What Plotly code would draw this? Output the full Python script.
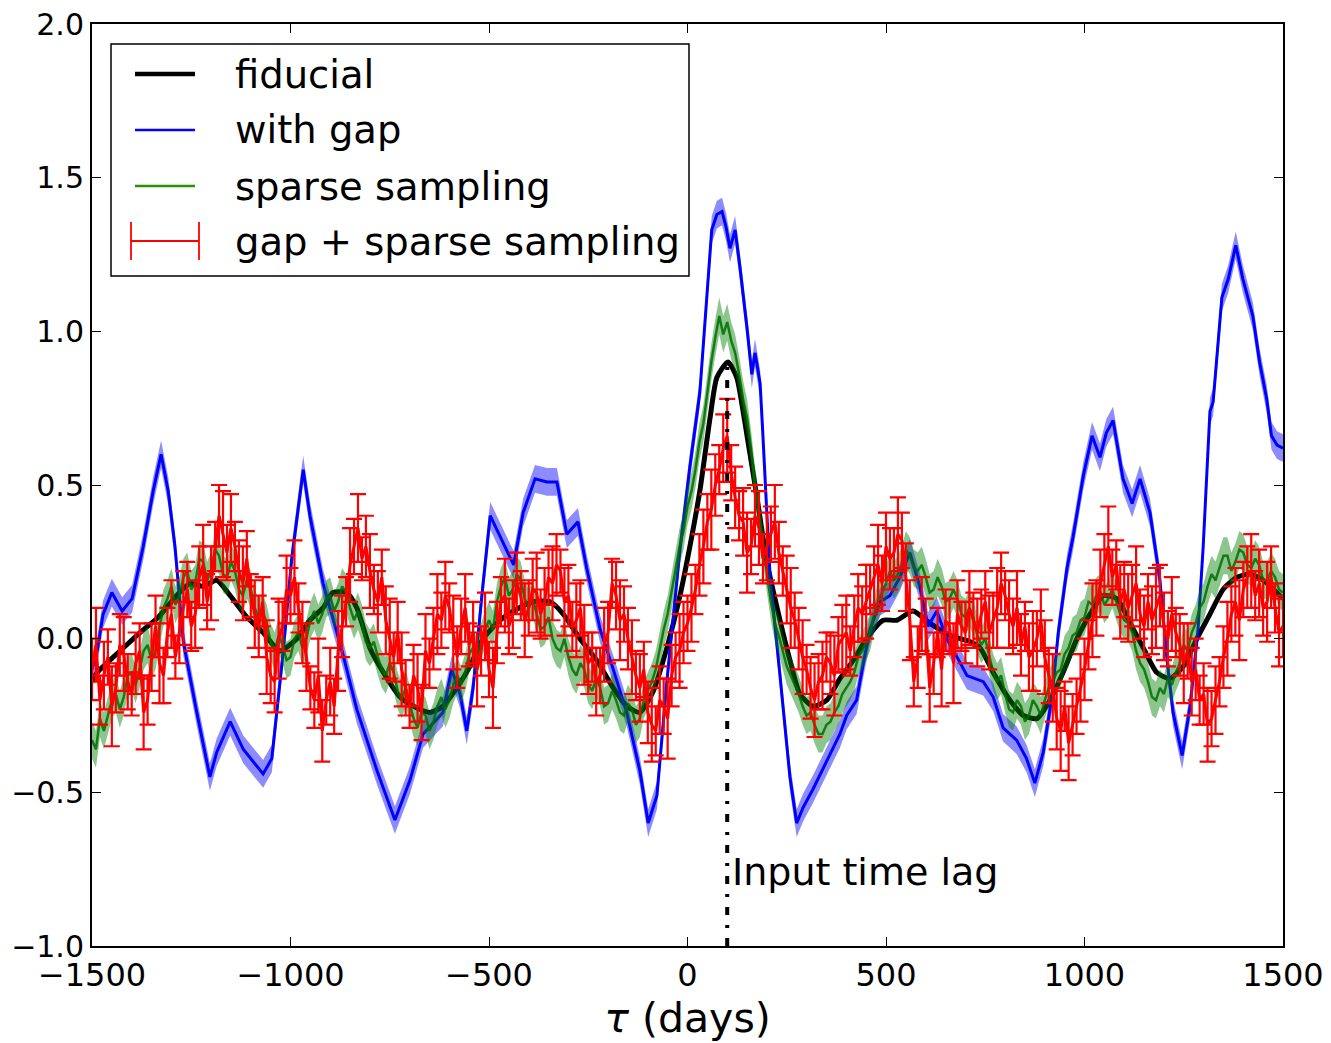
import plotly.graph_objects as go

# ---------------- data ----------------
fid_tau = [-1500, -1487, -1421, -1379, -1333, -1287, -1253, -1220, -1186, -1152, -1110, -1069, -1027, -984, -951,
           -918, -893, -858, -833, -800, -766, -724, -690, -649, -616, -581, -548, -515, -472, -438, -388, -346,
           -313, -271, -229, -187, -153, -120, -86, -52, -19, 6, 31, 57, 74, 102, 124, 140, 150, 175, 200, 233,
           258, 283, 316, 351, 384, 418, 451, 493, 527, 568, 611, 661, 712, 737, 770, 812, 846, 880, 913, 946,
           981, 1014, 1047, 1082, 1115, 1148, 1182, 1215, 1249, 1283, 1316, 1349, 1384, 1417, 1450, 1500]
fid_val = [-0.14, -0.11, -0.03, 0.02, 0.07, 0.14, 0.18, 0.17, 0.19, 0.14, 0.07, 0.02, -0.04, 0.00, 0.06,
           0.10, 0.15, 0.15, 0.10, -0.03, -0.11, -0.19, -0.22, -0.24, -0.22, -0.16, -0.09, 0.00, 0.06, 0.09, 0.12, 0.12,
           0.08, 0.00, -0.07, -0.16, -0.22, -0.24, -0.17, -0.03, 0.14, 0.30, 0.48, 0.72, 0.85, 0.90, 0.85, 0.74, 0.66, 0.46, 0.25, 0.06,
           -0.07, -0.18, -0.22, -0.20, -0.13, -0.07, 0.00, 0.06, 0.06, 0.09, 0.05, 0.01, -0.01, -0.03, -0.11, -0.20, -0.25, -0.26, -0.20, -0.11,
           0.00, 0.08, 0.14, 0.13, 0.05, -0.03, -0.11, -0.13, -0.09, 0.00, 0.08, 0.16, 0.20, 0.21, 0.19, 0.13]

gap_tau = [-1500, -1487, -1472, -1450, -1424, -1399, -1371, -1346, -1326, -1308, -1291, -1270, -1236, -1203, -1186,
           -1152, -1119, -1069, -1047, -1019, -997, -968, -951, -918, -868, -833, -782, -737, -699, -666, -616, -594,
           -573, -556, -540, -518, -497, -464, -438, -414, -384, -354, -329, -304, -276, -254, -220, -187, -153, -120,
           -99, -77, -52, -19, 6, 31, 49, 61, 74, 87, 97, 107, 120, 132, 150, 162, 170, 183, 190, 208, 233, 258, 275,
           291, 316, 351, 384, 401, 426, 443, 460, 485, 510, 535, 560, 585, 606, 628, 653, 679, 704, 745, 770, 795,
           829, 854, 875, 896, 918, 934, 956, 971, 997, 1019, 1039, 1055, 1072, 1097, 1120, 1140, 1165, 1190, 1208,
           1223, 1246, 1266, 1286, 1299, 1316, 1324, 1346, 1362, 1381, 1399, 1424, 1441, 1459, 1471, 1485, 1500]
gap_val = [-0.10, -0.04, 0.08, 0.15, 0.09, 0.13, 0.30, 0.48, 0.60, 0.48, 0.30, -0.01, -0.24, -0.45, -0.37,
           -0.27, -0.36, -0.44, -0.39, -0.05, 0.26, 0.55, 0.40, 0.18, -0.05, -0.23, -0.43, -0.59, -0.46, -0.31, -0.24, -0.10,
           -0.18, -0.30, -0.16, 0.14, 0.40, 0.31, 0.24, 0.41, 0.52, 0.51, 0.51, 0.34, 0.38, 0.23, 0.03, -0.10, -0.24, -0.43,
           -0.60, -0.51, -0.14, 0.29, 0.56, 0.80, 1.11, 1.33, 1.38, 1.39, 1.34, 1.27, 1.33, 1.21, 1.01, 0.86, 0.93, 0.83, 0.66, 0.20, -0.12, -0.45, -0.60,
           -0.55, -0.49, -0.40, -0.31, -0.25, -0.20, -0.08, 0.03, 0.12, 0.14, 0.20, 0.28, 0.17, 0.04, 0.09, 0.00, -0.06, -0.12, -0.14, -0.19, -0.29,
           -0.33, -0.39, -0.47, -0.37, -0.19, 0.02, 0.23, 0.33, 0.53, 0.66, 0.59, 0.67, 0.71, 0.52, 0.44, 0.52, 0.41, 0.19, -0.07,
           -0.24, -0.38, -0.22, 0.03, 0.30, 0.74, 0.77, 1.11, 1.17, 1.28, 1.17, 1.05, 0.90, 0.78, 0.66, 0.63, 0.62]
gap_err = 0.045

# lags of the sampled cross-correlations (10-day grid)
tau_grid = list(range(-1500, 1501, 10))

sparse_val = [
    -0.33, -0.36, -0.26, -0.30, -0.25, -0.20, -0.18, -0.23, -0.19, -0.12,
    -0.11, -0.15, -0.10, -0.04, -0.02, -0.07, -0.04, 0.04, 0.10, 0.13,
    0.17, 0.11, 0.14, 0.20, 0.22, 0.16, 0.18, 0.26, 0.25, 0.19,
    0.22, 0.29, 0.27, 0.21, 0.20, 0.25, 0.22, 0.16, 0.14, 0.19,
    0.16, 0.10, 0.07, 0.09, 0.05, -0.01, -0.04, 0.01, -0.02, -0.07,
    -0.06, 0.00, 0.02, -0.03, 0.00, 0.06, 0.09, 0.05, 0.08, 0.13,
    0.14, 0.09, 0.12, 0.17, 0.15, 0.10, 0.06, 0.09, 0.05, -0.01,
    -0.03, -0.01, -0.06, -0.10, -0.12, -0.08, -0.11, -0.17, -0.20, -0.16,
    -0.21, -0.26, -0.29, -0.24, -0.25, -0.30, -0.27, -0.22, -0.19, -0.23,
    -0.20, -0.15, -0.12, -0.15, -0.11, -0.05, -0.03, -0.06, -0.01, 0.03,
    0.06, 0.03, 0.12, 0.17, 0.20, 0.14, 0.16, 0.21, 0.19, 0.13,
    0.10, 0.13, 0.08, 0.03, 0.04, 0.07, 0.00, -0.03, -0.04, 0.00,
    -0.06, -0.10, -0.12, -0.08, -0.10, -0.15, -0.17, -0.13, -0.16, -0.22,
    -0.21, -0.17, -0.20, -0.24, -0.25, -0.21, -0.23, -0.28, -0.26, -0.20,
    -0.17, -0.14, -0.10, -0.03, 0.03, 0.08, 0.15, 0.22, 0.30, 0.35,
    0.43, 0.48, 0.55, 0.64, 0.70, 0.80, 0.90, 0.98, 1.05, 0.99,
    1.03, 0.97, 0.93, 0.86, 0.78, 0.72, 0.62, 0.50, 0.40, 0.30,
    0.21, 0.12, 0.05, 0.01, -0.04, -0.09, -0.12, -0.15, -0.18, -0.22,
    -0.25, -0.24, -0.28, -0.31, -0.31, -0.28, -0.27, -0.24, -0.22, -0.18,
    -0.16, -0.14, -0.11, -0.06, -0.04, -0.01, 0.02, 0.08, 0.12, 0.15,
    0.18, 0.22, 0.19, 0.21, 0.24, 0.29, 0.27, 0.23, 0.22, 0.24,
    0.20, 0.15, 0.16, 0.20, 0.17, 0.12, 0.13, 0.16, 0.13, 0.08,
    0.07, 0.10, 0.07, 0.01, -0.02, 0.00, -0.06, -0.11, -0.14, -0.12,
    -0.18, -0.23, -0.24, -0.20, -0.22, -0.27, -0.25, -0.20, -0.22, -0.25,
    -0.20, -0.16, -0.14, -0.11, -0.10, -0.05, -0.03, 0.01, 0.02, 0.06,
    0.07, 0.12, 0.11, 0.14, 0.15, 0.11, 0.13, 0.16, 0.12, 0.08,
    0.06, 0.05, 0.02, -0.04, -0.08, -0.10, -0.14, -0.19, -0.20, -0.16,
    -0.18, -0.13, -0.15, -0.11, -0.08, -0.02, -0.04, 0.02, 0.05, 0.10,
    0.12, 0.17, 0.21, 0.19, 0.23, 0.27, 0.27, 0.22, 0.25, 0.29,
    0.28, 0.24, 0.23, 0.26, 0.24, 0.19, 0.19, 0.22, 0.20, 0.16,
    0.15]
sparse_err = 0.06

both_val = [
    -0.10, -0.02, -0.20, -0.12, -0.06, -0.22, -0.16, -0.02, -0.05, -0.14,
    -0.18, -0.08, -0.04, -0.24, -0.20, -0.06, 0.04, -0.08, -0.12, 0.02,
    0.08, -0.06, 0.02, 0.10, 0.16, 0.04, 0.08, 0.20, 0.24, 0.12,
    0.18, 0.30, 0.40, 0.34, 0.28, 0.36, 0.30, 0.22, 0.18, 0.26,
    0.14, 0.08, 0.04, 0.12, -0.06, -0.12, -0.14, 0.00, 0.04, 0.16,
    0.14, 0.20, 0.10, 0.02, -0.06, -0.16, -0.20, -0.12, -0.30, -0.20,
    -0.14, -0.22, -0.04, 0.04, 0.12, 0.24, 0.30, 0.36, 0.26, 0.30,
    0.22, 0.16, 0.12, 0.20, 0.06, 0.00, -0.06, 0.02, -0.10, -0.16,
    -0.22, -0.12, -0.16, -0.24, -0.04, -0.08, 0.00, 0.08, 0.06, 0.14,
    0.10, 0.02, -0.06, 0.04, 0.10, -0.02, 0.02, -0.10, -0.04, 0.04,
    -0.10, -0.16, 0.02, 0.12, 0.14, 0.04, 0.08, 0.18, 0.14, 0.06,
    0.10, 0.16, 0.15, 0.08, 0.12, 0.20, 0.18, 0.24, 0.22, 0.12,
    0.14, 0.04, 0.06, 0.10, -0.02, -0.08, -0.06, -0.14, -0.12, -0.02,
    0.02, 0.18, 0.14, 0.06, 0.08, 0.00, -0.06, -0.12, -0.16, -0.10,
    -0.24, -0.28, -0.30, -0.20, -0.22, -0.26, -0.12, -0.06, -0.04, 0.02,
    0.05, 0.10, 0.16, 0.24, 0.30, 0.38, 0.42, 0.50, 0.55, 0.62,
    0.66, 0.54, 0.46, 0.40, 0.38, 0.28, 0.30, 0.40, 0.36, 0.26,
    0.30, 0.34, 0.38, 0.28, 0.22, 0.16, 0.10, 0.06, 0.00, -0.06,
    -0.10, -0.16, -0.20, -0.14, -0.12, -0.06, -0.08, -0.12, -0.02, 0.00,
    0.02, -0.04, 0.04, 0.10, 0.08, 0.12, 0.16, 0.20, 0.24, 0.18,
    0.30, 0.26, 0.28, 0.34, 0.32, 0.20, 0.06, -0.14, -0.06, 0.08,
    0.04, -0.16, -0.08, 0.02, -0.10, 0.06, 0.04, -0.08, 0.08, 0.04,
    0.02, 0.10, 0.06, 0.02, 0.08, 0.12, 0.02, 0.06, 0.10, 0.18,
    0.14, 0.08, 0.04, 0.10, -0.02, 0.04, -0.06, -0.04, 0.00, 0.06,
    -0.06, -0.12, -0.16, -0.26, -0.30, -0.22, -0.34, -0.28, -0.22, -0.16,
    -0.10, -0.02, 0.06, 0.10, 0.18, 0.24, 0.30, 0.20, 0.24, 0.12,
    0.16, 0.10, 0.14, 0.18, 0.08, 0.04, 0.12, 0.06, 0.10, 0.14,
    0.04, 0.00, 0.08, 0.02, -0.02, -0.08, -0.04, -0.14, -0.10, -0.20,
    -0.18, -0.28, -0.26, -0.20, -0.14, -0.06, 0.00, 0.08, 0.12, 0.06,
    0.16, 0.20, 0.22, 0.14, 0.18, 0.10, 0.12, 0.20, 0.10, 0.02,
    0.04]
both_err = [
    0.10, 0.12, 0.08, 0.11, 0.09, 0.13, 0.08, 0.10, 0.12, 0.09,
    0.07, 0.10, 0.09, 0.12, 0.08, 0.11, 0.10, 0.13, 0.09, 0.08,
    0.11, 0.07, 0.10, 0.12, 0.09, 0.08, 0.11, 0.10, 0.13, 0.09,
    0.12, 0.08, 0.10, 0.14, 0.09, 0.11, 0.08, 0.10, 0.12, 0.09,
    0.07, 0.11, 0.10, 0.08, 0.12, 0.09, 0.10, 0.13, 0.08, 0.11,
    0.09, 0.12, 0.08, 0.10, 0.11, 0.07, 0.09, 0.12, 0.10, 0.08,
    0.11, 0.09, 0.13, 0.10, 0.08, 0.12, 0.09, 0.11, 0.07, 0.10,
    0.12, 0.08, 0.10, 0.09, 0.11, 0.13, 0.08, 0.10, 0.12, 0.09,
    0.07, 0.10, 0.11, 0.09, 0.12, 0.08, 0.10, 0.13, 0.09, 0.11,
    0.08, 0.12, 0.10, 0.09, 0.11, 0.07, 0.10, 0.12, 0.08, 0.11,
    0.09, 0.13, 0.10, 0.08, 0.12, 0.09, 0.11, 0.10, 0.08, 0.12,
    0.09, 0.10, 0.13, 0.08, 0.11, 0.09, 0.12, 0.10, 0.07, 0.11,
    0.10, 0.08, 0.12, 0.09, 0.13, 0.10, 0.08, 0.11, 0.09, 0.12,
    0.10, 0.08, 0.11, 0.13, 0.09, 0.10, 0.12, 0.08, 0.11, 0.09,
    0.10, 0.12, 0.08, 0.11, 0.09, 0.13, 0.10, 0.08, 0.12, 0.10,
    0.09, 0.11, 0.08, 0.10, 0.12, 0.09, 0.13, 0.10, 0.08, 0.11,
    0.12, 0.09, 0.10, 0.08, 0.11, 0.13, 0.09, 0.10, 0.12, 0.08,
    0.11, 0.09, 0.12, 0.10, 0.08, 0.11, 0.13, 0.09, 0.10, 0.12,
    0.08, 0.10, 0.12, 0.09, 0.11, 0.08, 0.10, 0.13, 0.09, 0.11,
    0.12, 0.08, 0.10, 0.11, 0.09, 0.12, 0.08, 0.10, 0.13, 0.09,
    0.11, 0.10, 0.08, 0.12, 0.09, 0.11, 0.13, 0.08, 0.10, 0.12,
    0.09, 0.11, 0.10, 0.08, 0.12, 0.10, 0.09, 0.13, 0.11, 0.08,
    0.10, 0.12, 0.09, 0.11, 0.08, 0.10, 0.12, 0.09, 0.13, 0.10,
    0.08, 0.11, 0.09, 0.12, 0.10, 0.08, 0.11, 0.13, 0.09, 0.10,
    0.12, 0.09, 0.11, 0.10, 0.13, 0.08, 0.12, 0.10, 0.09, 0.11,
    0.10, 0.08, 0.12, 0.09, 0.11, 0.10, 0.13, 0.09, 0.08, 0.12,
    0.09, 0.11, 0.10, 0.12, 0.08, 0.10, 0.09, 0.11, 0.13, 0.10,
    0.11, 0.09, 0.12, 0.08, 0.10, 0.13, 0.09, 0.11, 0.10, 0.08,
    0.10, 0.12, 0.09, 0.11, 0.08, 0.10, 0.12, 0.09, 0.11, 0.13,
    0.09, 0.10, 0.12, 0.08, 0.11, 0.09, 0.13, 0.10, 0.08, 0.11,
    0.10]

input_lag = 100
lag_top = 0.9

x_ticks = [-1500, -1000, -500, 0, 500, 1000, 1500]
y_ticks = [-1.0, -0.5, 0.0, 0.5, 1.0, 1.5, 2.0]
legend_labels = ["fiducial", "with gap", "sparse sampling", "gap + sparse sampling"]

FONT = "DejaVu Sans"

# ---------------- figure ----------------
fig = go.Figure()

fig.add_trace(go.Scatter(x=fid_tau, y=fid_val, mode="lines",
                         line=dict(color="black", width=5, shape="spline", smoothing=0.6),
                         showlegend=False, hoverinfo="skip"))

fig.add_trace(go.Scatter(x=gap_tau, y=[v - gap_err for v in gap_val], mode="lines",
                         line=dict(width=0, color="rgba(0,0,255,0)"), showlegend=False, hoverinfo="skip"))
fig.add_trace(go.Scatter(x=gap_tau, y=[v + gap_err for v in gap_val], mode="lines",
                         line=dict(width=0, color="rgba(0,0,255,0)"), fill="tonexty",
                         fillcolor="rgba(0,0,255,0.45)", showlegend=False, hoverinfo="skip"))
fig.add_trace(go.Scatter(x=gap_tau, y=gap_val, mode="lines",
                         line=dict(color="#0000ff", width=3), showlegend=False))

fig.add_trace(go.Scatter(x=tau_grid, y=[v - sparse_err for v in sparse_val], mode="lines",
                         line=dict(width=0, color="rgba(0,128,0,0)"), showlegend=False, hoverinfo="skip"))
fig.add_trace(go.Scatter(x=tau_grid, y=[v + sparse_err for v in sparse_val], mode="lines",
                         line=dict(width=0, color="rgba(0,128,0,0)"), fill="tonexty",
                         fillcolor="rgba(0,128,0,0.45)", showlegend=False, hoverinfo="skip"))
fig.add_trace(go.Scatter(x=tau_grid, y=sparse_val, mode="lines",
                         line=dict(color="rgba(0,110,0,0.85)", width=2.5), showlegend=False))

fig.add_trace(go.Scatter(x=tau_grid, y=both_val, mode="lines",
                         line=dict(color="#ff0000", width=3),
                         error_y=dict(type="data", array=both_err, color="#ff0000", thickness=2.2, width=8),
                         showlegend=False))

fig.add_trace(go.Scatter(x=[input_lag, input_lag], y=[-1.0, lag_top], mode="lines",
                         line=dict(color="black", width=4, dash="8px,10px,3px,10px"),
                         showlegend=False, hoverinfo="skip"))

fig.add_annotation(x=input_lag, y=-0.76, xref="x", yref="y", text="Input time lag",
                   showarrow=False, xanchor="left", yanchor="middle", xshift=3,
                   font=dict(family=FONT, size=38, color="black"))

# ---------------- manual legend ----------------
def px_x(px):
    return (px - 92) / 1191.0

def px_y(py):
    return (946 - py) / 922.0

shapes = [dict(type="rect", xref="paper", yref="paper", x0=px_x(111), x1=px_x(689),
               y0=px_y(276), y1=px_y(44), line=dict(color="black", width=1.5), fillcolor="white", layer="above")]
rows = [74, 130, 186, 241]
shapes.append(dict(type="line", xref="paper", yref="paper", x0=px_x(135), x1=px_x(195),
                   y0=px_y(rows[0]), y1=px_y(rows[0]), line=dict(color="black", width=4.5), layer="above"))
shapes.append(dict(type="line", xref="paper", yref="paper", x0=px_x(135), x1=px_x(195),
                   y0=px_y(rows[1]), y1=px_y(rows[1]), line=dict(color="#0000ff", width=2.5), layer="above"))
shapes.append(dict(type="line", xref="paper", yref="paper", x0=px_x(135), x1=px_x(195),
                   y0=px_y(rows[2]), y1=px_y(rows[2]), line=dict(color="#2f8f00", width=2.5), layer="above"))
shapes.append(dict(type="line", xref="paper", yref="paper", x0=px_x(131), x1=px_x(199),
                   y0=px_y(rows[3]), y1=px_y(rows[3]), line=dict(color="#ff0000", width=1.8), layer="above"))
for xc in (131, 199):
    shapes.append(dict(type="line", xref="paper", yref="paper", x0=px_x(xc), x1=px_x(xc),
                       y0=px_y(rows[3] + 19), y1=px_y(rows[3] - 19), line=dict(color="#ff0000", width=1.8),
                       layer="above"))
for lab, r in zip(legend_labels, rows):
    fig.add_annotation(x=px_x(233), y=px_y(r), xref="paper", yref="paper", text=lab, showarrow=False,
                       xanchor="left", yanchor="middle", font=dict(family=FONT, size=38.5, color="black"))

fig.update_layout(
    width=1331, height=1043, autosize=False,
    margin=dict(l=92, r=48, t=24, b=97),
    plot_bgcolor="white", paper_bgcolor="white",
    shapes=shapes,
    font=dict(family=FONT, color="black"),
)
fig.update_xaxes(range=[-1500, 1500], tickvals=x_ticks, ticks="inside", ticklen=9, tickwidth=1,
                 tickcolor="black", showline=True, linecolor="black", linewidth=2, mirror="ticks",
                 showgrid=False, zeroline=False, automargin=False,
                 tickfont=dict(family=FONT, size=32, color="black"),
                 title=dict(text="<i>τ</i> (days)", font=dict(family=FONT, size=41, color="black"), standoff=10))
fig.update_yaxes(range=[-1.0, 2.0], tickvals=y_ticks, tickformat=".1f", ticks="inside", ticklen=9, tickwidth=1,
                 tickcolor="black", showline=True, linecolor="black", linewidth=2, mirror="ticks",
                 showgrid=False, zeroline=False, automargin=False,
                 tickfont=dict(family=FONT, size=30, color="black"))

fig.write_html("out.html")
